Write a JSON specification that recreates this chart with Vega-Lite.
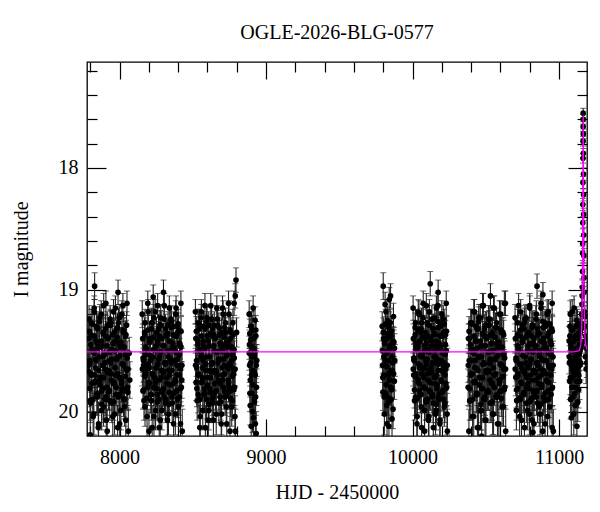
{
"$schema":"https://vega.github.io/schema/vega-lite/v6.json",
"width":500,"height":374,"autosize":"none",
"padding":{"left":87,"top":62,"right":13,"bottom":76},
"background":"white",
"title":{"text":"OGLE-2026-BLG-0577","font":"Liberation Serif","fontSize":20,"fontWeight":"normal","color":"black","offset":18,"anchor":"middle"},
"config":{"view":{"stroke":"black","strokeWidth":1.3},"font":"Liberation Serif"},
"datasets":{
"obs":[
{"t":7787,"m":19.67,"e":0.14},{"t":7792,"m":19.24,"e":0.11},{"t":7796,"m":19.60,"e":0.14},{"t":7803,"m":19.93,"e":0.16},{"t":7806,"m":19.37,"e":0.12},{"t":7812,"m":19.77,"e":0.15},{"t":7817,"m":19.50,"e":0.13},{"t":7825,"m":20.02,"e":0.17},{"t":7827,"m":19.15,"e":0.10},{"t":7833,"m":19.70,"e":0.15},{"t":7837,"m":19.57,"e":0.13},{"t":7842,"m":19.31,"e":0.12},{"t":7849,"m":19.88,"e":0.15},{"t":7852,"m":19.44,"e":0.12},{"t":7857,"m":20.10,"e":0.18},{"t":7863,"m":19.47,"e":0.12},{"t":7867,"m":19.74,"e":0.15},{"t":7875,"m":19.20,"e":0.11},{"t":7878,"m":19.83,"e":0.15},{"t":7883,"m":19.62,"e":0.14},{"t":7889,"m":19.35,"e":0.12},{"t":7891,"m":19.96,"e":0.16},{"t":7898,"m":19.53,"e":0.13},{"t":7903,"m":19.65,"e":0.14},{"t":7907,"m":19.11,"e":0.10},{"t":7913,"m":19.80,"e":0.15},{"t":7916,"m":20.16,"e":0.18},{"t":7921,"m":19.40,"e":0.12},{"t":7929,"m":19.58,"e":0.13},{"t":7933,"m":19.91,"e":0.16},{"t":7938,"m":19.27,"e":0.11},{"t":7944,"m":19.69,"e":0.14},{"t":7947,"m":19.49,"e":0.12},{"t":7954,"m":20.04,"e":0.17},{"t":7959,"m":19.18,"e":0.10},{"t":7963,"m":19.76,"e":0.15},{"t":7969,"m":19.64,"e":0.14},{"t":7971,"m":19.42,"e":0.12},{"t":7976,"m":19.86,"e":0.15},{"t":7983,"m":19.32,"e":0.12},{"t":7987,"m":20.13,"e":0.18},{"t":7992,"m":19.55,"e":0.13},{"t":7998,"m":19.23,"e":0.11},{"t":8001,"m":19.72,"e":0.15},{"t":8009,"m":19.99,"e":0.16},{"t":8013,"m":19.46,"e":0.12},{"t":8018,"m":19.81,"e":0.15},{"t":8023,"m":19.13,"e":0.10},{"t":8026,"m":19.61,"e":0.14},{"t":8032,"m":19.90,"e":0.16},{"t":8039,"m":19.38,"e":0.12},{"t":8043,"m":20.07,"e":0.17},{"t":8048,"m":19.29,"e":0.11},{"t":8051,"m":19.66,"e":0.14},{"t":8057,"m":19.84,"e":0.15},
{"t":7830,"m":18.97,"e":0.11},{"t":7990,"m":19.02,"e":0.10},{"t":7800,"m":20.19,"e":0.19},{"t":8066,"m":19.52,"e":0.13},{"t":8070,"m":19.74,"e":0.15},
{"t":7790,"m":19.40,"e":0.12},{"t":7795,"m":19.58,"e":0.13},{"t":7799,"m":19.91,"e":0.16},{"t":7806,"m":19.27,"e":0.11},{"t":7809,"m":19.69,"e":0.14},{"t":7815,"m":19.49,"e":0.12},{"t":7820,"m":20.04,"e":0.17},{"t":7828,"m":19.18,"e":0.10},{"t":7830,"m":19.76,"e":0.15},{"t":7836,"m":19.64,"e":0.14},{"t":7840,"m":19.42,"e":0.12},{"t":7845,"m":19.86,"e":0.15},{"t":7852,"m":19.32,"e":0.12},{"t":7855,"m":20.13,"e":0.18},{"t":7860,"m":19.55,"e":0.13},{"t":7866,"m":19.23,"e":0.11},{"t":7870,"m":19.72,"e":0.15},{"t":7878,"m":19.99,"e":0.16},{"t":7881,"m":19.46,"e":0.12},{"t":7886,"m":19.81,"e":0.15},{"t":7892,"m":19.13,"e":0.10},{"t":7894,"m":19.61,"e":0.14},{"t":7901,"m":19.90,"e":0.16},{"t":7906,"m":19.38,"e":0.12},{"t":7910,"m":20.07,"e":0.17},{"t":7916,"m":19.29,"e":0.11},{"t":7919,"m":19.66,"e":0.14},{"t":7924,"m":19.84,"e":0.15},{"t":7932,"m":19.67,"e":0.14},{"t":7936,"m":19.24,"e":0.11},{"t":7941,"m":19.60,"e":0.14},{"t":7947,"m":19.93,"e":0.16},{"t":7950,"m":19.37,"e":0.12},{"t":7957,"m":19.77,"e":0.15},{"t":7962,"m":19.50,"e":0.13},{"t":7966,"m":20.02,"e":0.17},{"t":7972,"m":19.15,"e":0.10},{"t":7974,"m":19.70,"e":0.15},{"t":7979,"m":19.57,"e":0.13},{"t":7986,"m":19.31,"e":0.12},{"t":7990,"m":19.88,"e":0.15},{"t":7995,"m":19.44,"e":0.12},{"t":8001,"m":20.10,"e":0.18},{"t":8004,"m":19.47,"e":0.12},{"t":8012,"m":19.74,"e":0.15},{"t":8016,"m":19.20,"e":0.11},{"t":8021,"m":19.83,"e":0.15},{"t":8026,"m":19.62,"e":0.14},{"t":8029,"m":19.35,"e":0.12},{"t":8035,"m":19.96,"e":0.16},{"t":8042,"m":19.53,"e":0.13},{"t":8046,"m":19.65,"e":0.14},{"t":8051,"m":19.11,"e":0.10},{"t":8054,"m":19.80,"e":0.15},{"t":8060,"m":20.16,"e":0.18},
{"t":7788,"m":19.62,"e":0.14},{"t":7793,"m":19.34,"e":0.12},{"t":7797,"m":19.81,"e":0.15},{"t":7804,"m":19.45,"e":0.12},{"t":7807,"m":19.70,"e":0.14},{"t":7813,"m":19.28,"e":0.12},{"t":7818,"m":19.90,"e":0.15},{"t":7826,"m":19.52,"e":0.14},{"t":7828,"m":19.38,"e":0.12},{"t":7834,"m":19.75,"e":0.14},{"t":7838,"m":19.58,"e":0.14},{"t":7843,"m":19.30,"e":0.12},{"t":7850,"m":19.85,"e":0.15},{"t":7853,"m":19.48,"e":0.12},{"t":7858,"m":19.66,"e":0.14},{"t":7864,"m":19.26,"e":0.12},{"t":7868,"m":19.78,"e":0.15},{"t":7876,"m":19.42,"e":0.12},{"t":7879,"m":19.94,"e":0.15},{"t":7884,"m":19.55,"e":0.14},{"t":7890,"m":19.36,"e":0.12},{"t":7892,"m":19.72,"e":0.14},{"t":7899,"m":19.60,"e":0.14},{"t":7904,"m":19.32,"e":0.12},{"t":7908,"m":19.88,"e":0.15},{"t":7914,"m":19.46,"e":0.12},{"t":7917,"m":19.68,"e":0.14},{"t":7922,"m":19.40,"e":0.12},{"t":7930,"m":19.83,"e":0.15},{"t":7934,"m":19.51,"e":0.14},{"t":7939,"m":19.29,"e":0.12},{"t":7945,"m":19.74,"e":0.14},{"t":7948,"m":19.57,"e":0.14},{"t":7955,"m":19.44,"e":0.12},{"t":7960,"m":19.92,"e":0.15},{"t":7964,"m":19.35,"e":0.12},{"t":7970,"m":19.64,"e":0.14},{"t":7972,"m":19.50,"e":0.14},{"t":7977,"m":19.80,"e":0.15},{"t":7984,"m":19.39,"e":0.12},{"t":7988,"m":19.69,"e":0.14},{"t":7993,"m":19.27,"e":0.12},{"t":7999,"m":19.86,"e":0.15},{"t":8002,"m":19.54,"e":0.14},{"t":8010,"m":19.43,"e":0.12},{"t":8014,"m":19.77,"e":0.15},{"t":8019,"m":19.61,"e":0.14},{"t":8024,"m":19.33,"e":0.12},{"t":8027,"m":19.89,"e":0.15},{"t":8033,"m":19.47,"e":0.12},{"t":8040,"m":19.71,"e":0.14},{"t":8044,"m":19.37,"e":0.12},{"t":8049,"m":19.82,"e":0.15},{"t":8052,"m":19.56,"e":0.14},{"t":8058,"m":19.65,"e":0.14},
{"t":8155,"m":19.20,"e":0.11},{"t":8160,"m":19.83,"e":0.15},{"t":8164,"m":19.62,"e":0.14},{"t":8171,"m":19.35,"e":0.12},{"t":8174,"m":19.96,"e":0.16},{"t":8180,"m":19.53,"e":0.13},{"t":8185,"m":19.65,"e":0.14},{"t":8193,"m":19.11,"e":0.10},{"t":8195,"m":19.80,"e":0.15},{"t":8201,"m":20.16,"e":0.18},{"t":8205,"m":19.40,"e":0.12},{"t":8210,"m":19.58,"e":0.13},{"t":8217,"m":19.91,"e":0.16},{"t":8220,"m":19.27,"e":0.11},{"t":8225,"m":19.69,"e":0.14},{"t":8231,"m":19.49,"e":0.12},{"t":8235,"m":20.04,"e":0.17},{"t":8243,"m":19.18,"e":0.10},{"t":8246,"m":19.76,"e":0.15},{"t":8251,"m":19.64,"e":0.14},{"t":8257,"m":19.42,"e":0.12},{"t":8259,"m":19.86,"e":0.15},{"t":8266,"m":19.32,"e":0.12},{"t":8271,"m":20.13,"e":0.18},{"t":8275,"m":19.55,"e":0.13},{"t":8281,"m":19.23,"e":0.11},{"t":8284,"m":19.72,"e":0.15},{"t":8289,"m":19.99,"e":0.16},{"t":8297,"m":19.46,"e":0.12},{"t":8301,"m":19.81,"e":0.15},{"t":8306,"m":19.13,"e":0.10},{"t":8312,"m":19.61,"e":0.14},{"t":8315,"m":19.90,"e":0.16},{"t":8322,"m":19.38,"e":0.12},{"t":8327,"m":20.07,"e":0.17},{"t":8331,"m":19.29,"e":0.11},{"t":8337,"m":19.66,"e":0.14},{"t":8339,"m":19.84,"e":0.15},{"t":8344,"m":19.67,"e":0.14},{"t":8351,"m":19.24,"e":0.11},{"t":8355,"m":19.60,"e":0.14},{"t":8360,"m":19.93,"e":0.16},{"t":8366,"m":19.37,"e":0.12},{"t":8369,"m":19.77,"e":0.15},{"t":8377,"m":19.50,"e":0.13},{"t":8381,"m":20.02,"e":0.17},{"t":8386,"m":19.15,"e":0.10},{"t":8391,"m":19.70,"e":0.15},{"t":8394,"m":19.57,"e":0.13},{"t":8400,"m":19.31,"e":0.12},{"t":8407,"m":19.88,"e":0.15},{"t":8411,"m":19.44,"e":0.12},{"t":8416,"m":20.10,"e":0.18},{"t":8419,"m":19.47,"e":0.12},{"t":8425,"m":19.74,"e":0.15},
{"t":8300,"m":19.02,"e":0.10},{"t":8230,"m":19.06,"e":0.10},
{"t":8158,"m":19.40,"e":0.12},{"t":8163,"m":19.58,"e":0.13},{"t":8167,"m":19.91,"e":0.16},{"t":8174,"m":19.27,"e":0.11},{"t":8177,"m":19.69,"e":0.14},{"t":8183,"m":19.49,"e":0.12},{"t":8188,"m":20.04,"e":0.17},{"t":8196,"m":19.18,"e":0.10},{"t":8198,"m":19.76,"e":0.15},{"t":8204,"m":19.64,"e":0.14},{"t":8208,"m":19.42,"e":0.12},{"t":8213,"m":19.86,"e":0.15},{"t":8220,"m":19.32,"e":0.12},{"t":8223,"m":20.13,"e":0.18},{"t":8228,"m":19.55,"e":0.13},{"t":8234,"m":19.23,"e":0.11},{"t":8238,"m":19.72,"e":0.15},{"t":8246,"m":19.99,"e":0.16},{"t":8249,"m":19.46,"e":0.12},{"t":8254,"m":19.81,"e":0.15},{"t":8260,"m":19.13,"e":0.10},{"t":8262,"m":19.61,"e":0.14},{"t":8269,"m":19.90,"e":0.16},{"t":8274,"m":19.38,"e":0.12},{"t":8278,"m":20.07,"e":0.17},{"t":8284,"m":19.29,"e":0.11},{"t":8287,"m":19.66,"e":0.14},{"t":8292,"m":19.84,"e":0.15},{"t":8300,"m":19.67,"e":0.14},{"t":8304,"m":19.24,"e":0.11},{"t":8309,"m":19.60,"e":0.14},{"t":8315,"m":19.93,"e":0.16},{"t":8318,"m":19.37,"e":0.12},{"t":8325,"m":19.77,"e":0.15},{"t":8330,"m":19.50,"e":0.13},{"t":8334,"m":20.02,"e":0.17},{"t":8340,"m":19.15,"e":0.10},{"t":8342,"m":19.70,"e":0.15},{"t":8347,"m":19.57,"e":0.13},{"t":8354,"m":19.31,"e":0.12},{"t":8358,"m":19.88,"e":0.15},{"t":8363,"m":19.44,"e":0.12},{"t":8369,"m":20.10,"e":0.18},{"t":8372,"m":19.47,"e":0.12},{"t":8380,"m":19.74,"e":0.15},{"t":8384,"m":19.20,"e":0.11},{"t":8389,"m":19.83,"e":0.15},{"t":8394,"m":19.62,"e":0.14},{"t":8397,"m":19.35,"e":0.12},{"t":8403,"m":19.96,"e":0.16},{"t":8410,"m":19.53,"e":0.13},{"t":8414,"m":19.65,"e":0.14},{"t":8419,"m":19.11,"e":0.10},{"t":8422,"m":19.80,"e":0.15},{"t":8428,"m":20.16,"e":0.18},
{"t":8156,"m":19.65,"e":0.14},{"t":8161,"m":19.56,"e":0.14},{"t":8165,"m":19.82,"e":0.15},{"t":8172,"m":19.37,"e":0.12},{"t":8175,"m":19.71,"e":0.14},{"t":8181,"m":19.47,"e":0.12},{"t":8186,"m":19.89,"e":0.15},{"t":8194,"m":19.33,"e":0.12},{"t":8196,"m":19.61,"e":0.14},{"t":8202,"m":19.77,"e":0.15},{"t":8206,"m":19.43,"e":0.12},{"t":8211,"m":19.54,"e":0.14},{"t":8218,"m":19.86,"e":0.15},{"t":8221,"m":19.27,"e":0.12},{"t":8226,"m":19.69,"e":0.14},{"t":8232,"m":19.39,"e":0.12},{"t":8236,"m":19.80,"e":0.15},{"t":8244,"m":19.50,"e":0.14},{"t":8247,"m":19.64,"e":0.14},{"t":8252,"m":19.35,"e":0.12},{"t":8258,"m":19.92,"e":0.15},{"t":8260,"m":19.44,"e":0.12},{"t":8267,"m":19.57,"e":0.14},{"t":8272,"m":19.74,"e":0.14},{"t":8276,"m":19.29,"e":0.12},{"t":8282,"m":19.51,"e":0.14},{"t":8285,"m":19.83,"e":0.15},{"t":8290,"m":19.40,"e":0.12},{"t":8298,"m":19.68,"e":0.14},{"t":8302,"m":19.46,"e":0.12},{"t":8307,"m":19.88,"e":0.15},{"t":8313,"m":19.32,"e":0.12},{"t":8316,"m":19.60,"e":0.14},{"t":8323,"m":19.72,"e":0.14},{"t":8328,"m":19.36,"e":0.12},{"t":8332,"m":19.55,"e":0.14},{"t":8338,"m":19.94,"e":0.15},{"t":8340,"m":19.42,"e":0.12},{"t":8345,"m":19.78,"e":0.15},{"t":8352,"m":19.26,"e":0.12},{"t":8356,"m":19.66,"e":0.14},{"t":8361,"m":19.48,"e":0.12},{"t":8367,"m":19.85,"e":0.15},{"t":8370,"m":19.30,"e":0.12},{"t":8378,"m":19.58,"e":0.14},{"t":8382,"m":19.75,"e":0.14},{"t":8387,"m":19.38,"e":0.12},{"t":8392,"m":19.52,"e":0.14},{"t":8395,"m":19.90,"e":0.15},{"t":8401,"m":19.28,"e":0.12},{"t":8408,"m":19.70,"e":0.14},{"t":8412,"m":19.45,"e":0.12},{"t":8417,"m":19.81,"e":0.15},{"t":8420,"m":19.34,"e":0.12},{"t":8426,"m":19.62,"e":0.14},
{"t":8518,"m":19.18,"e":0.10},{"t":8523,"m":19.76,"e":0.15},{"t":8527,"m":19.64,"e":0.14},{"t":8534,"m":19.42,"e":0.12},{"t":8537,"m":19.86,"e":0.15},{"t":8543,"m":19.32,"e":0.12},{"t":8548,"m":20.13,"e":0.18},{"t":8556,"m":19.55,"e":0.13},{"t":8558,"m":19.23,"e":0.11},{"t":8564,"m":19.72,"e":0.15},{"t":8568,"m":19.99,"e":0.16},{"t":8573,"m":19.46,"e":0.12},{"t":8580,"m":19.81,"e":0.15},{"t":8583,"m":19.13,"e":0.10},{"t":8588,"m":19.61,"e":0.14},{"t":8594,"m":19.90,"e":0.16},{"t":8598,"m":19.38,"e":0.12},{"t":8606,"m":20.07,"e":0.17},{"t":8609,"m":19.29,"e":0.11},{"t":8614,"m":19.66,"e":0.14},{"t":8620,"m":19.84,"e":0.15},{"t":8622,"m":19.67,"e":0.14},{"t":8629,"m":19.24,"e":0.11},{"t":8634,"m":19.60,"e":0.14},{"t":8638,"m":19.93,"e":0.16},{"t":8644,"m":19.37,"e":0.12},{"t":8647,"m":19.77,"e":0.15},{"t":8652,"m":19.50,"e":0.13},{"t":8660,"m":20.02,"e":0.17},{"t":8664,"m":19.15,"e":0.10},{"t":8669,"m":19.70,"e":0.15},{"t":8675,"m":19.57,"e":0.13},{"t":8678,"m":19.31,"e":0.12},{"t":8685,"m":19.88,"e":0.15},{"t":8690,"m":19.44,"e":0.12},{"t":8694,"m":20.10,"e":0.18},{"t":8700,"m":19.47,"e":0.12},{"t":8702,"m":19.74,"e":0.15},{"t":8707,"m":19.20,"e":0.11},{"t":8714,"m":19.83,"e":0.15},{"t":8718,"m":19.62,"e":0.14},{"t":8723,"m":19.35,"e":0.12},{"t":8729,"m":19.96,"e":0.16},{"t":8732,"m":19.53,"e":0.13},{"t":8740,"m":19.65,"e":0.14},{"t":8744,"m":19.11,"e":0.10},{"t":8749,"m":19.80,"e":0.15},{"t":8754,"m":20.16,"e":0.18},{"t":8757,"m":19.40,"e":0.12},{"t":8763,"m":19.58,"e":0.13},{"t":8770,"m":19.91,"e":0.16},{"t":8774,"m":19.27,"e":0.11},{"t":8779,"m":19.69,"e":0.14},{"t":8782,"m":19.49,"e":0.12},{"t":8788,"m":20.04,"e":0.17},
{"t":8795,"m":18.92,"e":0.10},{"t":8799,"m":19.35,"e":0.12},{"t":8790,"m":19.05,"e":0.10},
{"t":8521,"m":19.40,"e":0.12},{"t":8526,"m":19.58,"e":0.13},{"t":8530,"m":19.91,"e":0.16},{"t":8537,"m":19.27,"e":0.11},{"t":8540,"m":19.69,"e":0.14},{"t":8546,"m":19.49,"e":0.12},{"t":8551,"m":20.04,"e":0.17},{"t":8559,"m":19.18,"e":0.10},{"t":8561,"m":19.76,"e":0.15},{"t":8567,"m":19.64,"e":0.14},{"t":8571,"m":19.42,"e":0.12},{"t":8576,"m":19.86,"e":0.15},{"t":8583,"m":19.32,"e":0.12},{"t":8586,"m":20.13,"e":0.18},{"t":8591,"m":19.55,"e":0.13},{"t":8597,"m":19.23,"e":0.11},{"t":8601,"m":19.72,"e":0.15},{"t":8609,"m":19.99,"e":0.16},{"t":8612,"m":19.46,"e":0.12},{"t":8617,"m":19.81,"e":0.15},{"t":8623,"m":19.13,"e":0.10},{"t":8625,"m":19.61,"e":0.14},{"t":8632,"m":19.90,"e":0.16},{"t":8637,"m":19.38,"e":0.12},{"t":8641,"m":20.07,"e":0.17},{"t":8647,"m":19.29,"e":0.11},{"t":8650,"m":19.66,"e":0.14},{"t":8655,"m":19.84,"e":0.15},{"t":8663,"m":19.67,"e":0.14},{"t":8667,"m":19.24,"e":0.11},{"t":8672,"m":19.60,"e":0.14},{"t":8678,"m":19.93,"e":0.16},{"t":8681,"m":19.37,"e":0.12},{"t":8688,"m":19.77,"e":0.15},{"t":8693,"m":19.50,"e":0.13},{"t":8697,"m":20.02,"e":0.17},{"t":8703,"m":19.15,"e":0.10},{"t":8705,"m":19.70,"e":0.15},{"t":8710,"m":19.57,"e":0.13},{"t":8717,"m":19.31,"e":0.12},{"t":8721,"m":19.88,"e":0.15},{"t":8726,"m":19.44,"e":0.12},{"t":8732,"m":20.10,"e":0.18},{"t":8735,"m":19.47,"e":0.12},{"t":8743,"m":19.74,"e":0.15},{"t":8747,"m":19.20,"e":0.11},{"t":8752,"m":19.83,"e":0.15},{"t":8757,"m":19.62,"e":0.14},{"t":8760,"m":19.35,"e":0.12},{"t":8766,"m":19.96,"e":0.16},{"t":8773,"m":19.53,"e":0.13},{"t":8777,"m":19.65,"e":0.14},{"t":8782,"m":19.11,"e":0.10},{"t":8785,"m":19.80,"e":0.15},{"t":8791,"m":20.16,"e":0.18},
{"t":8519,"m":19.62,"e":0.14},{"t":8524,"m":19.34,"e":0.12},{"t":8528,"m":19.81,"e":0.15},{"t":8535,"m":19.45,"e":0.12},{"t":8538,"m":19.70,"e":0.14},{"t":8544,"m":19.28,"e":0.12},{"t":8549,"m":19.90,"e":0.15},{"t":8557,"m":19.52,"e":0.14},{"t":8559,"m":19.38,"e":0.12},{"t":8565,"m":19.75,"e":0.14},{"t":8569,"m":19.58,"e":0.14},{"t":8574,"m":19.30,"e":0.12},{"t":8581,"m":19.85,"e":0.15},{"t":8584,"m":19.48,"e":0.12},{"t":8589,"m":19.66,"e":0.14},{"t":8595,"m":19.26,"e":0.12},{"t":8599,"m":19.78,"e":0.15},{"t":8607,"m":19.42,"e":0.12},{"t":8610,"m":19.94,"e":0.15},{"t":8615,"m":19.55,"e":0.14},{"t":8621,"m":19.36,"e":0.12},{"t":8623,"m":19.72,"e":0.14},{"t":8630,"m":19.60,"e":0.14},{"t":8635,"m":19.32,"e":0.12},{"t":8639,"m":19.88,"e":0.15},{"t":8645,"m":19.46,"e":0.12},{"t":8648,"m":19.68,"e":0.14},{"t":8653,"m":19.40,"e":0.12},{"t":8661,"m":19.83,"e":0.15},{"t":8665,"m":19.51,"e":0.14},{"t":8670,"m":19.29,"e":0.12},{"t":8676,"m":19.74,"e":0.14},{"t":8679,"m":19.57,"e":0.14},{"t":8686,"m":19.44,"e":0.12},{"t":8691,"m":19.92,"e":0.15},{"t":8695,"m":19.35,"e":0.12},{"t":8701,"m":19.64,"e":0.14},{"t":8703,"m":19.50,"e":0.14},{"t":8708,"m":19.80,"e":0.15},{"t":8715,"m":19.39,"e":0.12},{"t":8719,"m":19.69,"e":0.14},{"t":8724,"m":19.27,"e":0.12},{"t":8730,"m":19.86,"e":0.15},{"t":8733,"m":19.54,"e":0.14},{"t":8741,"m":19.43,"e":0.12},{"t":8745,"m":19.77,"e":0.15},{"t":8750,"m":19.61,"e":0.14},{"t":8755,"m":19.33,"e":0.12},{"t":8758,"m":19.89,"e":0.15},{"t":8764,"m":19.47,"e":0.12},{"t":8771,"m":19.71,"e":0.14},{"t":8775,"m":19.37,"e":0.12},{"t":8780,"m":19.82,"e":0.15},{"t":8783,"m":19.56,"e":0.14},{"t":8789,"m":19.65,"e":0.14},
{"t":8885,"m":19.20,"e":0.11},{"t":8888,"m":19.62,"e":0.14},{"t":8892,"m":19.95,"e":0.16},{"t":8895,"m":19.41,"e":0.12},{"t":8899,"m":20.12,"e":0.18},{"t":8903,"m":19.55,"e":0.13},{"t":8906,"m":19.33,"e":0.12},{"t":8910,"m":19.78,"e":0.15},{"t":8914,"m":20.05,"e":0.17},{"t":8917,"m":19.48,"e":0.12},{"t":8921,"m":19.68,"e":0.14},{"t":8925,"m":19.25,"e":0.11},{"t":8929,"m":19.88,"e":0.15},{"t":8933,"m":20.18,"e":0.18},{"t":8937,"m":19.58,"e":0.13},
{"t":8887,"m":19.45,"e":0.12},{"t":8890,"m":19.85,"e":0.15},{"t":8897,"m":19.30,"e":0.12},{"t":8901,"m":19.70,"e":0.15},{"t":8908,"m":20.00,"e":0.17},{"t":8912,"m":19.15,"e":0.10},{"t":8919,"m":19.92,"e":0.16},{"t":8923,"m":19.52,"e":0.13},{"t":8927,"m":20.10,"e":0.18},{"t":8931,"m":19.38,"e":0.12},{"t":8935,"m":19.80,"e":0.15},
{"t":8886,"m":19.52,"e":0.14},{"t":8889,"m":19.36,"e":0.12},{"t":8893,"m":19.74,"e":0.14},{"t":8896,"m":19.60,"e":0.14},{"t":8900,"m":19.30,"e":0.12},{"t":8904,"m":19.85,"e":0.15},{"t":8907,"m":19.47,"e":0.12},{"t":8911,"m":19.66,"e":0.14},{"t":8915,"m":19.40,"e":0.12},{"t":8918,"m":19.90,"e":0.15},{"t":8922,"m":19.55,"e":0.14},{"t":8926,"m":19.70,"e":0.14},{"t":8930,"m":19.33,"e":0.12},{"t":8934,"m":19.62,"e":0.14},
{"t":9793,"m":19.30,"e":0.12},{"t":9797,"m":19.72,"e":0.15},{"t":9800,"m":18.97,"e":0.11},{"t":9804,"m":19.55,"e":0.13},{"t":9808,"m":20.02,"e":0.17},{"t":9811,"m":19.41,"e":0.12},{"t":9815,"m":19.85,"e":0.15},{"t":9819,"m":19.18,"e":0.10},{"t":9822,"m":19.63,"e":0.14},{"t":9826,"m":20.10,"e":0.18},{"t":9830,"m":19.36,"e":0.12},{"t":9833,"m":19.50,"e":0.13},{"t":9837,"m":19.92,"e":0.16},{"t":9841,"m":19.08,"e":0.10},{"t":9844,"m":19.68,"e":0.14},{"t":9848,"m":19.27,"e":0.11},{"t":9852,"m":19.80,"e":0.15},{"t":9856,"m":19.45,"e":0.12},{"t":9860,"m":20.06,"e":0.17},{"t":9865,"m":19.60,"e":0.14},{"t":9870,"m":19.22,"e":0.11},{"t":9876,"m":19.75,"e":0.15},
{"t":9795,"m":19.62,"e":0.14},{"t":9802,"m":19.40,"e":0.12},{"t":9806,"m":19.88,"e":0.15},{"t":9813,"m":19.12,"e":0.10},{"t":9817,"m":19.58,"e":0.13},{"t":9824,"m":19.95,"e":0.16},{"t":9828,"m":19.25,"e":0.11},{"t":9835,"m":19.70,"e":0.15},{"t":9839,"m":20.12,"e":0.18},{"t":9846,"m":19.48,"e":0.12},{"t":9850,"m":19.05,"e":0.10},{"t":9854,"m":19.90,"e":0.16},{"t":9858,"m":19.34,"e":0.12},{"t":9862,"m":19.66,"e":0.14},{"t":9867,"m":19.98,"e":0.16},{"t":9873,"m":19.43,"e":0.12},{"t":9879,"m":19.58,"e":0.13},
{"t":9794,"m":19.50,"e":0.14},{"t":9798,"m":19.84,"e":0.15},{"t":9801,"m":19.35,"e":0.12},{"t":9805,"m":19.70,"e":0.14},{"t":9809,"m":19.44,"e":0.12},{"t":9812,"m":19.62,"e":0.14},{"t":9816,"m":19.28,"e":0.12},{"t":9820,"m":19.78,"e":0.15},{"t":9823,"m":19.52,"e":0.14},{"t":9827,"m":19.40,"e":0.12},{"t":9831,"m":19.88,"e":0.15},{"t":9834,"m":19.58,"e":0.14},{"t":9838,"m":19.31,"e":0.12},{"t":9842,"m":19.74,"e":0.14},{"t":9845,"m":19.46,"e":0.12},{"t":9849,"m":19.66,"e":0.14},{"t":9853,"m":19.38,"e":0.12},{"t":9857,"m":19.82,"e":0.15},{"t":9861,"m":19.55,"e":0.14},{"t":9866,"m":19.42,"e":0.12},{"t":9871,"m":19.69,"e":0.14},{"t":9877,"m":19.48,"e":0.12},
{"t":10004,"m":19.15,"e":0.10},{"t":10008,"m":19.70,"e":0.15},{"t":10012,"m":19.57,"e":0.13},{"t":10018,"m":19.31,"e":0.12},{"t":10020,"m":19.88,"e":0.15},{"t":10026,"m":19.44,"e":0.12},{"t":10030,"m":20.10,"e":0.18},{"t":10037,"m":19.47,"e":0.12},{"t":10038,"m":19.74,"e":0.15},{"t":10044,"m":19.20,"e":0.11},{"t":10047,"m":19.83,"e":0.15},{"t":10051,"m":19.62,"e":0.14},{"t":10057,"m":19.35,"e":0.12},{"t":10060,"m":19.96,"e":0.16},{"t":10064,"m":19.53,"e":0.13},{"t":10069,"m":19.65,"e":0.14},{"t":10073,"m":19.11,"e":0.10},{"t":10080,"m":19.80,"e":0.15},{"t":10082,"m":20.16,"e":0.18},{"t":10087,"m":19.40,"e":0.12},{"t":10092,"m":19.58,"e":0.13},{"t":10093,"m":19.91,"e":0.16},{"t":10099,"m":19.27,"e":0.11},{"t":10104,"m":19.69,"e":0.14},{"t":10107,"m":19.49,"e":0.12},{"t":10112,"m":20.04,"e":0.17},{"t":10115,"m":19.18,"e":0.10},{"t":10119,"m":19.76,"e":0.15},{"t":10126,"m":19.64,"e":0.14},{"t":10130,"m":19.42,"e":0.12},{"t":10134,"m":19.86,"e":0.15},{"t":10139,"m":19.32,"e":0.12},{"t":10142,"m":20.13,"e":0.18},{"t":10148,"m":19.55,"e":0.13},{"t":10152,"m":19.23,"e":0.11},{"t":10155,"m":19.72,"e":0.15},{"t":10161,"m":19.99,"e":0.16},{"t":10162,"m":19.46,"e":0.12},{"t":10167,"m":19.81,"e":0.15},{"t":10173,"m":19.13,"e":0.10},{"t":10176,"m":19.61,"e":0.14},{"t":10180,"m":19.90,"e":0.16},{"t":10185,"m":19.38,"e":0.12},{"t":10188,"m":20.07,"e":0.17},{"t":10195,"m":19.29,"e":0.11},{"t":10198,"m":19.66,"e":0.14},{"t":10203,"m":19.84,"e":0.15},{"t":10207,"m":19.67,"e":0.14},{"t":10210,"m":19.24,"e":0.11},{"t":10215,"m":19.60,"e":0.14},{"t":10221,"m":19.93,"e":0.16},{"t":10224,"m":19.37,"e":0.12},{"t":10228,"m":19.77,"e":0.15},{"t":10231,"m":19.50,"e":0.13},{"t":10236,"m":20.02,"e":0.17},
{"t":10121,"m":18.95,"e":0.10},{"t":10175,"m":19.02,"e":0.10},
{"t":10006,"m":19.40,"e":0.12},{"t":10010,"m":19.58,"e":0.13},{"t":10014,"m":19.91,"e":0.16},{"t":10020,"m":19.27,"e":0.11},{"t":10022,"m":19.69,"e":0.14},{"t":10028,"m":19.49,"e":0.12},{"t":10032,"m":20.04,"e":0.17},{"t":10039,"m":19.18,"e":0.10},{"t":10040,"m":19.76,"e":0.15},{"t":10046,"m":19.64,"e":0.14},{"t":10049,"m":19.42,"e":0.12},{"t":10053,"m":19.86,"e":0.15},{"t":10059,"m":19.32,"e":0.12},{"t":10062,"m":20.13,"e":0.18},{"t":10066,"m":19.55,"e":0.13},{"t":10071,"m":19.23,"e":0.11},{"t":10075,"m":19.72,"e":0.15},{"t":10082,"m":19.99,"e":0.16},{"t":10084,"m":19.46,"e":0.12},{"t":10089,"m":19.81,"e":0.15},{"t":10094,"m":19.13,"e":0.10},{"t":10095,"m":19.61,"e":0.14},{"t":10101,"m":19.90,"e":0.16},{"t":10106,"m":19.38,"e":0.12},{"t":10109,"m":20.07,"e":0.17},{"t":10114,"m":19.29,"e":0.11},{"t":10117,"m":19.66,"e":0.14},{"t":10121,"m":19.84,"e":0.15},{"t":10128,"m":19.67,"e":0.14},{"t":10132,"m":19.24,"e":0.11},{"t":10136,"m":19.60,"e":0.14},{"t":10141,"m":19.93,"e":0.16},{"t":10144,"m":19.37,"e":0.12},{"t":10150,"m":19.77,"e":0.15},{"t":10154,"m":19.50,"e":0.13},{"t":10157,"m":20.02,"e":0.17},{"t":10163,"m":19.15,"e":0.10},{"t":10164,"m":19.70,"e":0.15},{"t":10169,"m":19.57,"e":0.13},{"t":10175,"m":19.31,"e":0.12},{"t":10178,"m":19.88,"e":0.15},{"t":10182,"m":19.44,"e":0.12},{"t":10187,"m":20.10,"e":0.18},{"t":10190,"m":19.47,"e":0.12},{"t":10197,"m":19.74,"e":0.15},{"t":10200,"m":19.20,"e":0.11},{"t":10205,"m":19.83,"e":0.15},{"t":10209,"m":19.62,"e":0.14},{"t":10212,"m":19.35,"e":0.12},{"t":10217,"m":19.96,"e":0.16},{"t":10223,"m":19.53,"e":0.13},{"t":10226,"m":19.65,"e":0.14},{"t":10230,"m":19.11,"e":0.10},{"t":10233,"m":19.80,"e":0.15},{"t":10238,"m":20.16,"e":0.18},
{"t":10005,"m":19.65,"e":0.14},{"t":10009,"m":19.56,"e":0.14},{"t":10013,"m":19.82,"e":0.15},{"t":10019,"m":19.37,"e":0.12},{"t":10021,"m":19.71,"e":0.14},{"t":10027,"m":19.47,"e":0.12},{"t":10031,"m":19.89,"e":0.15},{"t":10038,"m":19.33,"e":0.12},{"t":10039,"m":19.61,"e":0.14},{"t":10045,"m":19.77,"e":0.15},{"t":10048,"m":19.43,"e":0.12},{"t":10052,"m":19.54,"e":0.14},{"t":10058,"m":19.86,"e":0.15},{"t":10061,"m":19.27,"e":0.12},{"t":10065,"m":19.69,"e":0.14},{"t":10070,"m":19.39,"e":0.12},{"t":10074,"m":19.80,"e":0.15},{"t":10081,"m":19.50,"e":0.14},{"t":10083,"m":19.64,"e":0.14},{"t":10088,"m":19.35,"e":0.12},{"t":10093,"m":19.92,"e":0.15},{"t":10094,"m":19.44,"e":0.12},{"t":10100,"m":19.57,"e":0.14},{"t":10105,"m":19.74,"e":0.14},{"t":10108,"m":19.29,"e":0.12},{"t":10113,"m":19.51,"e":0.14},{"t":10116,"m":19.83,"e":0.15},{"t":10120,"m":19.40,"e":0.12},{"t":10127,"m":19.68,"e":0.14},{"t":10131,"m":19.46,"e":0.12},{"t":10135,"m":19.88,"e":0.15},{"t":10140,"m":19.32,"e":0.12},{"t":10143,"m":19.60,"e":0.14},{"t":10149,"m":19.72,"e":0.14},{"t":10153,"m":19.36,"e":0.12},{"t":10156,"m":19.55,"e":0.14},{"t":10162,"m":19.94,"e":0.15},{"t":10163,"m":19.42,"e":0.12},{"t":10168,"m":19.78,"e":0.15},{"t":10174,"m":19.26,"e":0.12},{"t":10177,"m":19.66,"e":0.14},{"t":10181,"m":19.48,"e":0.12},{"t":10186,"m":19.85,"e":0.15},{"t":10189,"m":19.30,"e":0.12},{"t":10196,"m":19.58,"e":0.14},{"t":10199,"m":19.75,"e":0.14},{"t":10204,"m":19.38,"e":0.12},{"t":10208,"m":19.52,"e":0.14},{"t":10211,"m":19.90,"e":0.15},{"t":10216,"m":19.28,"e":0.12},{"t":10222,"m":19.70,"e":0.14},{"t":10225,"m":19.45,"e":0.12},{"t":10229,"m":19.81,"e":0.15},{"t":10232,"m":19.34,"e":0.12},{"t":10237,"m":19.62,"e":0.14},
{"t":10380,"m":19.80,"e":0.15},{"t":10385,"m":20.16,"e":0.18},{"t":10388,"m":19.40,"e":0.12},{"t":10395,"m":19.58,"e":0.13},{"t":10398,"m":19.91,"e":0.16},{"t":10404,"m":19.27,"e":0.11},{"t":10408,"m":19.69,"e":0.14},{"t":10416,"m":19.49,"e":0.12},{"t":10418,"m":20.04,"e":0.17},{"t":10423,"m":19.18,"e":0.10},{"t":10427,"m":19.76,"e":0.15},{"t":10432,"m":19.64,"e":0.14},{"t":10438,"m":19.42,"e":0.12},{"t":10441,"m":19.86,"e":0.15},{"t":10446,"m":19.32,"e":0.12},{"t":10451,"m":20.13,"e":0.18},{"t":10455,"m":19.55,"e":0.13},{"t":10463,"m":19.23,"e":0.11},{"t":10466,"m":19.72,"e":0.15},{"t":10470,"m":19.99,"e":0.16},{"t":10476,"m":19.46,"e":0.12},{"t":10478,"m":19.81,"e":0.15},{"t":10484,"m":19.13,"e":0.10},{"t":10489,"m":19.61,"e":0.14},{"t":10493,"m":19.90,"e":0.16},{"t":10498,"m":19.38,"e":0.12},{"t":10501,"m":20.07,"e":0.17},{"t":10506,"m":19.29,"e":0.11},{"t":10513,"m":19.66,"e":0.14},{"t":10517,"m":19.84,"e":0.15},{"t":10522,"m":19.67,"e":0.14},{"t":10528,"m":19.24,"e":0.11},{"t":10530,"m":19.60,"e":0.14},{"t":10537,"m":19.93,"e":0.16},{"t":10542,"m":19.37,"e":0.12},{"t":10545,"m":19.77,"e":0.15},{"t":10551,"m":19.50,"e":0.13},{"t":10553,"m":20.02,"e":0.17},{"t":10558,"m":19.15,"e":0.10},{"t":10564,"m":19.70,"e":0.15},{"t":10568,"m":19.57,"e":0.13},{"t":10573,"m":19.31,"e":0.12},{"t":10578,"m":19.88,"e":0.15},{"t":10581,"m":19.44,"e":0.12},{"t":10589,"m":20.10,"e":0.18},{"t":10592,"m":19.47,"e":0.12},{"t":10597,"m":19.74,"e":0.15},{"t":10602,"m":19.20,"e":0.11},{"t":10605,"m":19.83,"e":0.15},{"t":10610,"m":19.62,"e":0.14},{"t":10617,"m":19.35,"e":0.12},{"t":10621,"m":19.96,"e":0.16},{"t":10625,"m":19.53,"e":0.13},{"t":10628,"m":19.65,"e":0.14},{"t":10634,"m":19.11,"e":0.10},
{"t":10532,"m":19.05,"e":0.10},{"t":10472,"m":20.20,"e":0.19},
{"t":10382,"m":19.40,"e":0.12},{"t":10387,"m":19.58,"e":0.13},{"t":10390,"m":19.91,"e":0.16},{"t":10397,"m":19.27,"e":0.11},{"t":10400,"m":19.69,"e":0.14},{"t":10406,"m":19.49,"e":0.12},{"t":10410,"m":20.04,"e":0.17},{"t":10418,"m":19.18,"e":0.10},{"t":10420,"m":19.76,"e":0.15},{"t":10425,"m":19.64,"e":0.14},{"t":10429,"m":19.42,"e":0.12},{"t":10434,"m":19.86,"e":0.15},{"t":10440,"m":19.32,"e":0.12},{"t":10443,"m":20.13,"e":0.18},{"t":10448,"m":19.55,"e":0.13},{"t":10453,"m":19.23,"e":0.11},{"t":10457,"m":19.72,"e":0.15},{"t":10465,"m":19.99,"e":0.16},{"t":10468,"m":19.46,"e":0.12},{"t":10472,"m":19.81,"e":0.15},{"t":10478,"m":19.13,"e":0.10},{"t":10480,"m":19.61,"e":0.14},{"t":10486,"m":19.90,"e":0.16},{"t":10491,"m":19.38,"e":0.12},{"t":10495,"m":20.07,"e":0.17},{"t":10500,"m":19.29,"e":0.11},{"t":10503,"m":19.66,"e":0.14},{"t":10508,"m":19.84,"e":0.15},{"t":10515,"m":19.67,"e":0.14},{"t":10519,"m":19.24,"e":0.11},{"t":10524,"m":19.60,"e":0.14},{"t":10530,"m":19.93,"e":0.16},{"t":10532,"m":19.37,"e":0.12},{"t":10539,"m":19.77,"e":0.15},{"t":10544,"m":19.50,"e":0.13},{"t":10547,"m":20.02,"e":0.17},{"t":10553,"m":19.15,"e":0.10},{"t":10555,"m":19.70,"e":0.15},{"t":10560,"m":19.57,"e":0.13},{"t":10566,"m":19.31,"e":0.12},{"t":10570,"m":19.88,"e":0.15},{"t":10575,"m":19.44,"e":0.12},{"t":10580,"m":20.10,"e":0.18},{"t":10583,"m":19.47,"e":0.12},{"t":10591,"m":19.74,"e":0.15},{"t":10594,"m":19.20,"e":0.11},{"t":10599,"m":19.83,"e":0.15},{"t":10604,"m":19.62,"e":0.14},{"t":10607,"m":19.35,"e":0.12},{"t":10612,"m":19.96,"e":0.16},{"t":10619,"m":19.53,"e":0.13},{"t":10623,"m":19.65,"e":0.14},{"t":10627,"m":19.11,"e":0.10},{"t":10630,"m":19.80,"e":0.15},{"t":10636,"m":20.16,"e":0.18},
{"t":10381,"m":19.62,"e":0.14},{"t":10386,"m":19.34,"e":0.12},{"t":10389,"m":19.81,"e":0.15},{"t":10396,"m":19.45,"e":0.12},{"t":10399,"m":19.70,"e":0.14},{"t":10405,"m":19.28,"e":0.12},{"t":10409,"m":19.90,"e":0.15},{"t":10417,"m":19.52,"e":0.14},{"t":10419,"m":19.38,"e":0.12},{"t":10424,"m":19.75,"e":0.14},{"t":10428,"m":19.58,"e":0.14},{"t":10433,"m":19.30,"e":0.12},{"t":10439,"m":19.85,"e":0.15},{"t":10442,"m":19.48,"e":0.12},{"t":10447,"m":19.66,"e":0.14},{"t":10452,"m":19.26,"e":0.12},{"t":10456,"m":19.78,"e":0.15},{"t":10464,"m":19.42,"e":0.12},{"t":10467,"m":19.94,"e":0.15},{"t":10471,"m":19.55,"e":0.14},{"t":10477,"m":19.36,"e":0.12},{"t":10479,"m":19.72,"e":0.14},{"t":10485,"m":19.60,"e":0.14},{"t":10490,"m":19.32,"e":0.12},{"t":10494,"m":19.88,"e":0.15},{"t":10499,"m":19.46,"e":0.12},{"t":10502,"m":19.68,"e":0.14},{"t":10507,"m":19.40,"e":0.12},{"t":10514,"m":19.83,"e":0.15},{"t":10518,"m":19.51,"e":0.14},{"t":10523,"m":19.29,"e":0.12},{"t":10529,"m":19.74,"e":0.14},{"t":10531,"m":19.57,"e":0.14},{"t":10538,"m":19.44,"e":0.12},{"t":10543,"m":19.92,"e":0.15},{"t":10546,"m":19.35,"e":0.12},{"t":10552,"m":19.64,"e":0.14},{"t":10554,"m":19.50,"e":0.14},{"t":10559,"m":19.80,"e":0.15},{"t":10565,"m":19.39,"e":0.12},{"t":10569,"m":19.69,"e":0.14},{"t":10574,"m":19.27,"e":0.12},{"t":10579,"m":19.86,"e":0.15},{"t":10582,"m":19.54,"e":0.14},{"t":10590,"m":19.43,"e":0.12},{"t":10593,"m":19.77,"e":0.15},{"t":10598,"m":19.61,"e":0.14},{"t":10603,"m":19.33,"e":0.12},{"t":10606,"m":19.89,"e":0.15},{"t":10611,"m":19.47,"e":0.12},{"t":10618,"m":19.71,"e":0.14},{"t":10622,"m":19.37,"e":0.12},{"t":10626,"m":19.82,"e":0.15},{"t":10629,"m":19.56,"e":0.14},{"t":10635,"m":19.65,"e":0.14},
{"t":10700,"m":19.23,"e":0.11},{"t":10705,"m":19.72,"e":0.15},{"t":10709,"m":19.99,"e":0.16},{"t":10715,"m":19.46,"e":0.12},{"t":10718,"m":19.81,"e":0.15},{"t":10724,"m":19.13,"e":0.10},{"t":10729,"m":19.61,"e":0.14},{"t":10736,"m":19.90,"e":0.16},{"t":10738,"m":19.38,"e":0.12},{"t":10744,"m":20.07,"e":0.17},{"t":10748,"m":19.29,"e":0.11},{"t":10753,"m":19.66,"e":0.14},{"t":10760,"m":19.84,"e":0.15},{"t":10762,"m":19.67,"e":0.14},{"t":10767,"m":19.24,"e":0.11},{"t":10773,"m":19.60,"e":0.14},{"t":10777,"m":19.93,"e":0.16},{"t":10784,"m":19.37,"e":0.12},{"t":10787,"m":19.77,"e":0.15},{"t":10792,"m":19.50,"e":0.13},{"t":10798,"m":20.02,"e":0.17},{"t":10800,"m":19.15,"e":0.10},{"t":10807,"m":19.70,"e":0.15},{"t":10811,"m":19.57,"e":0.13},{"t":10815,"m":19.31,"e":0.12},{"t":10821,"m":19.88,"e":0.15},{"t":10824,"m":19.44,"e":0.12},{"t":10829,"m":20.10,"e":0.18},{"t":10836,"m":19.47,"e":0.12},{"t":10840,"m":19.74,"e":0.15},{"t":10845,"m":19.20,"e":0.11},{"t":10851,"m":19.83,"e":0.15},{"t":10854,"m":19.62,"e":0.14},{"t":10860,"m":19.35,"e":0.12},{"t":10865,"m":19.96,"e":0.16},{"t":10869,"m":19.53,"e":0.13},{"t":10875,"m":19.65,"e":0.14},{"t":10877,"m":19.11,"e":0.10},{"t":10881,"m":19.80,"e":0.15},{"t":10888,"m":20.16,"e":0.18},{"t":10892,"m":19.40,"e":0.12},{"t":10897,"m":19.58,"e":0.13},{"t":10903,"m":19.91,"e":0.16},{"t":10905,"m":19.27,"e":0.11},{"t":10913,"m":19.69,"e":0.14},{"t":10917,"m":19.49,"e":0.12},{"t":10922,"m":20.04,"e":0.17},{"t":10927,"m":19.18,"e":0.10},{"t":10929,"m":19.76,"e":0.15},{"t":10935,"m":19.64,"e":0.14},{"t":10942,"m":19.42,"e":0.12},{"t":10946,"m":19.86,"e":0.15},{"t":10951,"m":19.32,"e":0.12},{"t":10953,"m":20.13,"e":0.18},{"t":10959,"m":19.55,"e":0.13},
{"t":10850,"m":18.97,"e":0.10},{"t":10890,"m":19.04,"e":0.10},{"t":10822,"m":20.17,"e":0.18},
{"t":10702,"m":19.40,"e":0.12},{"t":10707,"m":19.58,"e":0.13},{"t":10711,"m":19.91,"e":0.16},{"t":10717,"m":19.27,"e":0.11},{"t":10720,"m":19.69,"e":0.14},{"t":10726,"m":19.49,"e":0.12},{"t":10731,"m":20.04,"e":0.17},{"t":10738,"m":19.18,"e":0.10},{"t":10740,"m":19.76,"e":0.15},{"t":10746,"m":19.64,"e":0.14},{"t":10750,"m":19.42,"e":0.12},{"t":10755,"m":19.86,"e":0.15},{"t":10762,"m":19.32,"e":0.12},{"t":10764,"m":20.13,"e":0.18},{"t":10769,"m":19.55,"e":0.13},{"t":10775,"m":19.23,"e":0.11},{"t":10779,"m":19.72,"e":0.15},{"t":10786,"m":19.99,"e":0.16},{"t":10789,"m":19.46,"e":0.12},{"t":10794,"m":19.81,"e":0.15},{"t":10800,"m":19.13,"e":0.10},{"t":10802,"m":19.61,"e":0.14},{"t":10809,"m":19.90,"e":0.16},{"t":10813,"m":19.38,"e":0.12},{"t":10817,"m":20.07,"e":0.17},{"t":10823,"m":19.29,"e":0.11},{"t":10826,"m":19.66,"e":0.14},{"t":10831,"m":19.84,"e":0.15},{"t":10838,"m":19.67,"e":0.14},{"t":10842,"m":19.24,"e":0.11},{"t":10847,"m":19.60,"e":0.14},{"t":10853,"m":19.93,"e":0.16},{"t":10856,"m":19.37,"e":0.12},{"t":10862,"m":19.77,"e":0.15},{"t":10867,"m":19.50,"e":0.13},{"t":10871,"m":20.02,"e":0.17},{"t":10877,"m":19.15,"e":0.10},{"t":10879,"m":19.70,"e":0.15},{"t":10883,"m":19.57,"e":0.13},{"t":10890,"m":19.31,"e":0.12},{"t":10894,"m":19.88,"e":0.15},{"t":10899,"m":19.44,"e":0.12},{"t":10905,"m":20.10,"e":0.18},{"t":10907,"m":19.47,"e":0.12},{"t":10915,"m":19.74,"e":0.15},{"t":10919,"m":19.20,"e":0.11},{"t":10924,"m":19.83,"e":0.15},{"t":10929,"m":19.62,"e":0.14},{"t":10931,"m":19.35,"e":0.12},{"t":10937,"m":19.96,"e":0.16},{"t":10944,"m":19.53,"e":0.13},{"t":10948,"m":19.65,"e":0.14},{"t":10953,"m":19.11,"e":0.10},{"t":10955,"m":19.80,"e":0.15},{"t":10961,"m":20.16,"e":0.18},
{"t":10701,"m":19.65,"e":0.14},{"t":10706,"m":19.56,"e":0.14},{"t":10710,"m":19.82,"e":0.15},{"t":10716,"m":19.37,"e":0.12},{"t":10719,"m":19.71,"e":0.14},{"t":10725,"m":19.47,"e":0.12},{"t":10730,"m":19.89,"e":0.15},{"t":10737,"m":19.33,"e":0.12},{"t":10739,"m":19.61,"e":0.14},{"t":10745,"m":19.77,"e":0.15},{"t":10749,"m":19.43,"e":0.12},{"t":10754,"m":19.54,"e":0.14},{"t":10761,"m":19.86,"e":0.15},{"t":10763,"m":19.27,"e":0.12},{"t":10768,"m":19.69,"e":0.14},{"t":10774,"m":19.39,"e":0.12},{"t":10778,"m":19.80,"e":0.15},{"t":10785,"m":19.50,"e":0.14},{"t":10788,"m":19.64,"e":0.14},{"t":10793,"m":19.35,"e":0.12},{"t":10799,"m":19.92,"e":0.15},{"t":10801,"m":19.44,"e":0.12},{"t":10808,"m":19.57,"e":0.14},{"t":10812,"m":19.74,"e":0.14},{"t":10816,"m":19.29,"e":0.12},{"t":10822,"m":19.51,"e":0.14},{"t":10825,"m":19.83,"e":0.15},{"t":10830,"m":19.40,"e":0.12},{"t":10837,"m":19.68,"e":0.14},{"t":10841,"m":19.46,"e":0.12},{"t":10846,"m":19.88,"e":0.15},{"t":10852,"m":19.32,"e":0.12},{"t":10855,"m":19.60,"e":0.14},{"t":10861,"m":19.72,"e":0.14},{"t":10866,"m":19.36,"e":0.12},{"t":10870,"m":19.55,"e":0.14},{"t":10876,"m":19.94,"e":0.15},{"t":10878,"m":19.42,"e":0.12},{"t":10882,"m":19.78,"e":0.15},{"t":10889,"m":19.26,"e":0.12},{"t":10893,"m":19.66,"e":0.14},{"t":10898,"m":19.48,"e":0.12},{"t":10904,"m":19.85,"e":0.15},{"t":10906,"m":19.30,"e":0.12},{"t":10914,"m":19.58,"e":0.14},{"t":10918,"m":19.75,"e":0.14},{"t":10923,"m":19.38,"e":0.12},{"t":10928,"m":19.52,"e":0.14},{"t":10930,"m":19.90,"e":0.15},{"t":10936,"m":19.28,"e":0.12},{"t":10943,"m":19.70,"e":0.14},{"t":10947,"m":19.45,"e":0.12},{"t":10952,"m":19.81,"e":0.15},{"t":10954,"m":19.34,"e":0.12},{"t":10960,"m":19.62,"e":0.14},
{"t":11069,"m":19.42,"e":0.12},{"t":11073,"m":19.75,"e":0.15},{"t":11077,"m":19.20,"e":0.11},{"t":11080,"m":19.58,"e":0.13},{"t":11084,"m":20.05,"e":0.17},{"t":11088,"m":19.33,"e":0.12},{"t":11092,"m":19.66,"e":0.14},{"t":11095,"m":19.88,"e":0.15},{"t":11099,"m":19.50,"e":0.13},{"t":11103,"m":19.15,"e":0.10},{"t":11107,"m":19.70,"e":0.15},{"t":11110,"m":19.95,"e":0.16},{"t":11114,"m":19.38,"e":0.12},{"t":11118,"m":19.60,"e":0.14},{"t":11122,"m":20.12,"e":0.18},{"t":11126,"m":19.27,"e":0.11},{"t":11130,"m":19.53,"e":0.13},{"t":11134,"m":19.82,"e":0.15},{"t":11138,"m":19.45,"e":0.12},{"t":11142,"m":19.62,"e":0.14},{"t":11146,"m":19.35,"e":0.12},{"t":11150,"m":19.48,"e":0.13},
{"t":11071,"m":19.60,"e":0.14},{"t":11075,"m":19.30,"e":0.12},{"t":11079,"m":19.90,"e":0.16},{"t":11082,"m":19.48,"e":0.12},{"t":11086,"m":19.72,"e":0.15},{"t":11090,"m":19.18,"e":0.10},{"t":11097,"m":19.62,"e":0.14},{"t":11101,"m":20.02,"e":0.17},{"t":11105,"m":19.40,"e":0.12},{"t":11112,"m":19.55,"e":0.13},{"t":11116,"m":19.80,"e":0.15},{"t":11120,"m":19.25,"e":0.11},{"t":11124,"m":19.68,"e":0.14},{"t":11128,"m":19.92,"e":0.16},{"t":11132,"m":19.36,"e":0.12},{"t":11136,"m":19.58,"e":0.13},{"t":11140,"m":19.75,"e":0.15},{"t":11144,"m":19.50,"e":0.13},{"t":11148,"m":19.30,"e":0.12},
{"t":11070,"m":19.55,"e":0.14},{"t":11074,"m":19.38,"e":0.12},{"t":11078,"m":19.72,"e":0.14},{"t":11081,"m":19.45,"e":0.12},{"t":11085,"m":19.62,"e":0.14},{"t":11089,"m":19.80,"e":0.15},{"t":11093,"m":19.33,"e":0.12},{"t":11096,"m":19.50,"e":0.14},{"t":11100,"m":19.68,"e":0.14},{"t":11104,"m":19.42,"e":0.12},{"t":11108,"m":19.85,"e":0.15},{"t":11111,"m":19.58,"e":0.14},{"t":11115,"m":19.30,"e":0.12},{"t":11119,"m":19.75,"e":0.14},{"t":11123,"m":19.48,"e":0.12},{"t":11127,"m":19.64,"e":0.14},{"t":11131,"m":19.40,"e":0.12},{"t":11135,"m":19.70,"e":0.14},{"t":11139,"m":19.52,"e":0.14},{"t":11143,"m":19.36,"e":0.12},{"t":11147,"m":19.60,"e":0.14},
{"t":11152.2,"m":19.32,"e":0.10},{"t":11153.6,"m":19.45,"e":0.10},{"t":11155.1,"m":19.20,"e":0.09},{"t":11156.3,"m":19.28,"e":0.09},{"t":11157.5,"m":19.12,"e":0.08},{"t":11158.6,"m":19.05,"e":0.08},{"t":11159.4,"m":18.98,"e":0.07},{"t":11160.2,"m":18.85,"e":0.07},{"t":11160.9,"m":18.70,"e":0.06},{"t":11161.6,"m":18.62,"e":0.06},{"t":11162.2,"m":18.45,"e":0.05},{"t":11162.8,"m":18.30,"e":0.05},{"t":11163.3,"m":18.12,"e":0.05},{"t":11163.8,"m":17.92,"e":0.04},{"t":11164.2,"m":17.78,"e":0.04},{"t":11164.6,"m":17.66,"e":0.04},{"t":11165.0,"m":17.55,"e":0.04},{"t":11165.4,"m":17.60,"e":0.04},{"t":11165.8,"m":17.72,"e":0.04},{"t":11166.3,"m":17.88,"e":0.04},{"t":11166.8,"m":18.05,"e":0.05},{"t":11167.3,"m":18.22,"e":0.05},{"t":11167.9,"m":18.38,"e":0.05},{"t":11168.6,"m":18.55,"e":0.06},{"t":11169.4,"m":18.72,"e":0.06},{"t":11170.3,"m":18.90,"e":0.07},{"t":11171.5,"m":19.02,"e":0.08},{"t":11173.0,"m":19.18,"e":0.08},{"t":11174.6,"m":19.30,"e":0.09},{"t":11176.5,"m":19.22,"e":0.09},{"t":11178.3,"m":19.42,"e":0.10},{"t":11180.2,"m":19.55,"e":0.11},{"t":11182.5,"m":19.38,"e":0.10},{"t":11185.0,"m":19.65,"e":0.12},{"t":11187.4,"m":19.48,"e":0.11},{"t":11189.6,"m":19.60,"e":0.12}
],
"model":[
{"t":7778,"m":19.51},{"t":11100,"m":19.51},{"t":11138,"m":19.50},{"t":11149,"m":19.45},{"t":11153,"m":19.38},{"t":11157,"m":19.20},{"t":11160,"m":18.89},{"t":11162,"m":18.48},{"t":11163,"m":18.17},{"t":11164,"m":17.80},{"t":11164.5,"m":17.64},{"t":11165,"m":17.57},{"t":11165.5,"m":17.64},{"t":11166,"m":17.80},{"t":11167,"m":18.17},{"t":11168,"m":18.48},{"t":11170,"m":18.89},{"t":11173,"m":19.20},{"t":11177,"m":19.38},{"t":11181,"m":19.45},{"t":11191,"m":19.49}
]
},
"layer":[
{"data":{"name":"obs"},
 "mark":{"type":"errorbar","ticks":{"size":6,"color":"#222222","thickness":1},"rule":{"color":"#222222","strokeWidth":1.1},"clip":true},
 "encoding":{
  "x":{"field":"t","type":"quantitative","scale":{"domain":[7778,11191],"nice":false,"zero":false},
   "axis":{"orient":"bottom","values":[7800,8000,8200,8400,8600,8800,9000,9200,9400,9600,9800,10000,10200,10400,10600,10800,11000],"labelExpr":"datum.value % 1000 === 0 ? format(datum.value, 'd') : ''","labelOverlap":false,"tickSize":{"condition":{"test":"datum.value % 1000 === 0","value":-17},"value":-10},"tickColor":"black","tickWidth":1.2,"domain":false,"grid":false,"labelPadding":28,"labelFont":"Liberation Serif","labelFontSize":20,"labelColor":"black","title":"HJD - 2450000","titleFont":"Liberation Serif","titleFontSize":20,"titleFontWeight":"normal","titleColor":"black","titlePadding":8}},
  "y":{"field":"m","type":"quantitative","scale":{"domain":[17.13,20.2],"reverse":true,"nice":false,"zero":false},
   "axis":{"orient":"left","values":[17.2,17.4,17.6,17.8,18,18.2,18.4,18.6,18.8,19,19.2,19.4,19.6,19.8,20],"labelExpr":"abs(datum.value - round(datum.value)) < 0.001 ? format(datum.value, 'd') : ''","labelOverlap":false,"tickSize":{"condition":{"test":"abs(datum.value - round(datum.value)) < 0.001","value":-19},"value":-10},"tickColor":"black","tickWidth":1.2,"domain":false,"grid":false,"labelPadding":28,"labelFont":"Liberation Serif","labelFontSize":20,"labelColor":"black","title":"I magnitude","titleFont":"Liberation Serif","titleFontSize":20,"titleFontWeight":"normal","titleColor":"black","titlePadding":27}},
  "yError":{"field":"e"}
 }},
{"data":{"name":"obs"},
 "mark":{"type":"circle","color":"black","size":32,"opacity":1,"clip":true},
 "encoding":{"x":{"field":"t","type":"quantitative","axis":null},"y":{"field":"m","type":"quantitative","axis":null}}},
{"data":{"name":"model"},
 "mark":{"type":"line","color":"#ff00ff","strokeWidth":1.3,"clip":true},
 "encoding":{
  "x":{"field":"t","type":"quantitative","axis":{"orient":"top","values":[7800,8000,8200,8400,8600,8800,9000,9200,9400,9600,9800,10000,10200,10400,10600,10800,11000],"labels":false,"title":null,"tickSize":{"condition":{"test":"datum.value % 1000 === 0","value":-17},"value":-10},"tickColor":"black","tickWidth":1.2,"domain":false,"grid":false}},
  "y":{"field":"m","type":"quantitative","axis":{"orient":"right","values":[17.2,17.4,17.6,17.8,18,18.2,18.4,18.6,18.8,19,19.2,19.4,19.6,19.8,20],"labels":false,"title":null,"tickSize":{"condition":{"test":"abs(datum.value - round(datum.value)) < 0.001","value":-19},"value":-10},"tickColor":"black","tickWidth":1.2,"domain":false,"grid":false}}
 }}
],
"resolve":{"axis":{"x":"independent","y":"independent"}}
}
